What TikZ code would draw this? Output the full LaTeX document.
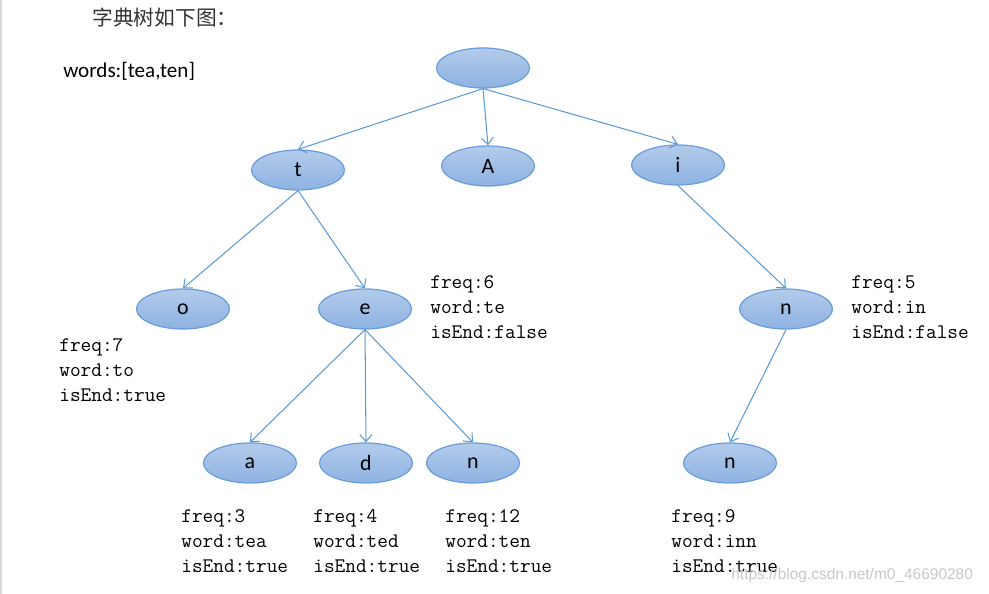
\documentclass[tikz,border=0pt]{standalone}
\usepackage{fontspec}
\setmainfont{Carlito}
\newfontfamily\cjk{Noto Sans CJK SC}
\usetikzlibrary{shapes.geometric,arrows.meta}
\definecolor{edgeblue}{HTML}{5B9BD5}
\definecolor{filltop}{HTML}{B3CBEA}
\definecolor{fillbot}{HTML}{8DB2E2}
\definecolor{rimblue}{HTML}{6A9EDA}

\begin{document}
\begin{tikzpicture}[
		x=0.02cm, y=-0.02cm,
		trie/.style={ellipse,draw=rimblue,line width=0.7pt,top color=filltop,bottom color=fillbot,
			minimum width=1.86cm,minimum height=0.8cm,inner sep=0pt,font=\fontsize{12.5}{13}\selectfont},
		info/.style={anchor=north west,inner sep=0pt,align=left,font=\ttfamily\fontsize{11.8}{14.2}\selectfont},
		link/.style={->,draw=edgeblue,line width=0.6pt},
		>={Straight Barb[length=4pt,width=7pt]}]
	\useasboundingbox (0,0) rectangle (989,594);
	\draw[black!15,line width=1.2pt] (1,0) -- (1,594);
	%% headings
	\node[anchor=west,inner sep=0pt] (title) at (92,18) {\cjk\fontsize{11.8}{13}\selectfont\color{black!80}字典树如下图：};
	\node[anchor=west,inner sep=0pt] (words) at (63,71) {\fontsize{12}{14}\selectfont words:[tea,ten]};
	%% define nodes
	\node (root) at (483,68) [trie] {};
	\node (t) at (298,170) [trie] {t};
	\node (A) at (488,166) [trie] {A};
	\node (i) at (678,165) [trie] {i};
	\node (o) at (183,309) [trie] {o};
	\node (e) at (365,309) [trie] {e};
	\node (in) at (786,309) [trie] {n};
	\node (a) at (250,463) [trie] {a};
	\node (d) at (366,463) [trie] {d};
	\node (en) at (473,463) [trie] {n};
	\node (inn) at (730,463) [trie] {n};
	%% define arrows
	\draw[link] (root.south) -- (t.north);
	\draw[link] (root.south) -- (A.north);
	\draw[link] (root.south) -- (i.north);
	\draw[link] (t.south) -- (o.north);
	\draw[link] (t.south) -- (e.north);
	\draw[link] (i.south) -- (in.north);
	\draw[link] (e.south) -- (a.north);
	\draw[link] (e.south) -- (d.north);
	\draw[link] (e.south) -- (en.north);
	\draw[link] (in.south) -- (inn.north);
	%% node data
	\node (to info) at (59,338) [info] {freq:7\\word:to\\isEnd:true};
	\node (te info) at (430,275) [info] {freq:6\\word:te\\isEnd:false};
	\node (in info) at (851,275) [info] {freq:5\\word:in\\isEnd:false};
	\node (tea info) at (181,509) [info] {freq:3\\word:tea\\isEnd:true};
	\node (ted info) at (313,509) [info] {freq:4\\word:ted\\isEnd:true};
	\node (ten info) at (445,509) [info] {freq:12\\word:ten\\isEnd:true};
	\node (inn info) at (671,509) [info] {freq:9\\word:inn\\isEnd:true};
	\node[anchor=west,inner sep=0pt,text=black!22] (url) at (731,575)
		{\fontspec{Liberation Sans}\fontsize{8.8}{11}\selectfont https://blog.csdn.net/m0\_46690280};
\end{tikzpicture}
\end{document}
